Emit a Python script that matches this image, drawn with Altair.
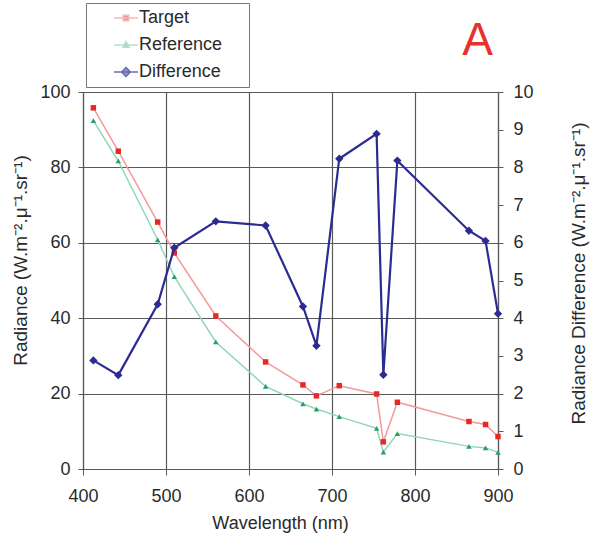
import altair as alt
import pandas as pd

# MERIS band centres (nm)
wavelength = [412.5, 442.5, 490, 510, 560, 620, 665, 681.25, 708.75, 753.75, 761.875, 778.75, 865, 885, 900]
target = [95.8, 84.3, 65.5, 57.3, 40.6, 28.4, 22.3, 19.4, 22.1, 19.9, 7.2, 17.7, 12.6, 11.8, 8.6]
reference = [92.4, 81.7, 60.8, 51.0, 33.7, 21.9, 17.3, 15.9, 13.9, 10.8, 4.5, 9.4, 6.0, 5.6, 4.4]
difference = [2.88, 2.49, 4.37, 5.87, 6.57, 6.46, 4.31, 3.27, 8.23, 8.89, 2.50, 8.18, 6.32, 6.05, 4.12]
series_names = ["Target", "Reference", "Difference"]
x_ticks = [400, 500, 600, 700, 800, 900]
left_ticks = [0, 20, 40, 60, 80, 100]
right_ticks = [0, 1, 2, 3, 4, 5, 6, 7, 8, 9, 10]

wide = pd.DataFrame({"wavelength": wavelength, "target": target,
                     "reference": reference, "difference": difference})
long = pd.DataFrame({
    "wavelength": wavelength * 3,
    "series": [s for s in series_names for _ in wavelength],
    "value": target + reference + difference,
})

FONT = "Liberation Sans"
GRID = "#5a5a5a"
TXT = "#2a2a2a"
marker_colors = ["#e42a28", "#25a060", "#2c2c90"]
line_colors = ["#f29a9a", "#93d5b8", "#2c2c90"]
UNITS = "(W.m\u207b\u00b2.\u03bc\u207b\u00b9.sr\u207b\u00b9)"

x_axis = alt.Axis(values=x_ticks, title="Wavelength (nm)", grid=True, gridColor=GRID,
                  gridWidth=1.2, domainColor=GRID, domainWidth=1.2, tickColor=GRID,
                  tickSize=6, labelFontSize=18, labelPadding=12, labelFont=FONT,
                  labelColor=TXT, labelFlush=False, titleFont=FONT, titleFontSize=18,
                  titleFontWeight="normal", titleColor=TXT, titleX=197, titleY=59,
                  titleBaseline="alphabetic", titleAlign="center")
x_enc = alt.X("wavelength:Q", scale=alt.Scale(domain=[400, 900], nice=False, zero=False),
              axis=x_axis)

left_axis = alt.Axis(values=left_ticks, title="Radiance " + UNITS,
                     orient="left", grid=True, gridColor=GRID, gridWidth=1.2,
                     domainColor=GRID, domainWidth=1.2, tickColor=GRID, tickSize=5,
                     labelFontSize=18, labelPadding=8, labelFont=FONT, labelColor=TXT,
                     labelFlush=False,
                     titleFont=FONT, titleFontSize=19, titleFontWeight="normal",
                     titleColor=TXT, titleAngle=270, titleX=-63, titleY=168,
                     titleBaseline="middle", titleAlign="center")
right_axis = alt.Axis(values=right_ticks, title="Radiance Difference  " + UNITS,
                      orient="right", grid=False, domainColor=GRID, domainWidth=1.2,
                      tickColor=GRID, tickSize=5, labelFontSize=18, labelPadding=10,
                      labelFont=FONT, labelColor=TXT, labelFlush=False,
                      titleFont=FONT, titleFontSize=19,
                      titleFontWeight="normal", titleColor=TXT, titleAngle=270,
                      titleX=80, titleY=181, titleBaseline="middle", titleAlign="center")

left_scale = alt.Scale(domain=[0, 100], nice=False)
right_scale = alt.Scale(domain=[0, 10], nice=False)


def yl(field):
    return alt.Y(field, scale=left_scale, axis=left_axis)


def yr(field):
    return alt.Y(field, scale=right_scale, axis=right_axis)


base = alt.Chart(wide)
line_t = base.mark_line(color=line_colors[0], strokeWidth=1.5).encode(x=x_enc, y=yl("target:Q"))
line_r = base.mark_line(color=line_colors[1], strokeWidth=1.5).encode(x=x_enc, y=yl("reference:Q"))
pts_t = base.mark_point(shape="square", filled=True, size=30, opacity=1,
                        color=marker_colors[0]).encode(x=x_enc, y=yl("target:Q"))
pts_r = base.mark_point(shape="triangle-up", filled=True, size=30, opacity=1,
                        color=marker_colors[1]).encode(x=x_enc, y=yl("reference:Q"))

# legend-only layer (no rows drawn)
sym_paths = [
    "M-2.4,0H2.4M-0.55,-0.55H0.55V0.55H-0.55Z",
    "M-2.4,0H2.4M0,-0.7L0.62,0.45H-0.62Z",
    "M-2.4,0H2.4M0,-0.9L0.9,0L0,0.9L-0.9,0Z",
]
leg = alt.Legend(orient="none", legendX=3, legendY=-89, title=None, direction="vertical",
                 fillColor="white", strokeColor="#777777", padding=6, symbolOffset=25,
                 labelOffset=4, labelFontSize=18, labelFont=FONT, labelColor=TXT,
                 rowPadding=9, symbolSize=100, symbolStrokeWidth=1.5,
                 labelExpr="datum.label + '\u00a0\u00a0\u00a0\u00a0\u200b'")
legend_layer = alt.Chart(long).transform_filter("false").mark_point(
    filled=True, strokeWidth=1.5).encode(
    x=x_enc,
    y=yl("value:Q"),
    fill=alt.Fill("series:N", scale=alt.Scale(domain=series_names, range=marker_colors), legend=leg),
    stroke=alt.Stroke("series:N", scale=alt.Scale(domain=series_names, range=line_colors[:2] + [marker_colors[2]]), legend=leg),
    shape=alt.Shape("series:N", scale=alt.Scale(domain=series_names, range=sym_paths), legend=leg),
)

left = alt.layer(line_t, line_r, pts_t, pts_r, legend_layer)

line_d = base.mark_line(color=line_colors[2], strokeWidth=2.2).encode(x=x_enc, y=yr("difference:Q"))
pts_d = base.mark_point(shape="diamond", filled=True, size=70, opacity=1,
                        color=marker_colors[2]).encode(x=x_enc, y=yr("difference:Q"))
right = alt.layer(line_d, pts_d)

chart = alt.layer(left, right).resolve_scale(y="independent").properties(
    width=415, height=377,
    autosize=alt.AutoSizeParams(type="none"),
    padding={"left": 83, "top": 92, "right": 93, "bottom": 66},
    background="white",
    title=alt.TitleParams(text="A", anchor="end", frame="group", fontSize=46,
                          color="#e8302c", font=FONT, fontWeight="normal",
                          baseline="alphabetic", offset=0, dx=-5, dy=98),
).configure_view(stroke=None)

chart.save("out.html", embed_options={"renderer": "svg", "actions": False})
